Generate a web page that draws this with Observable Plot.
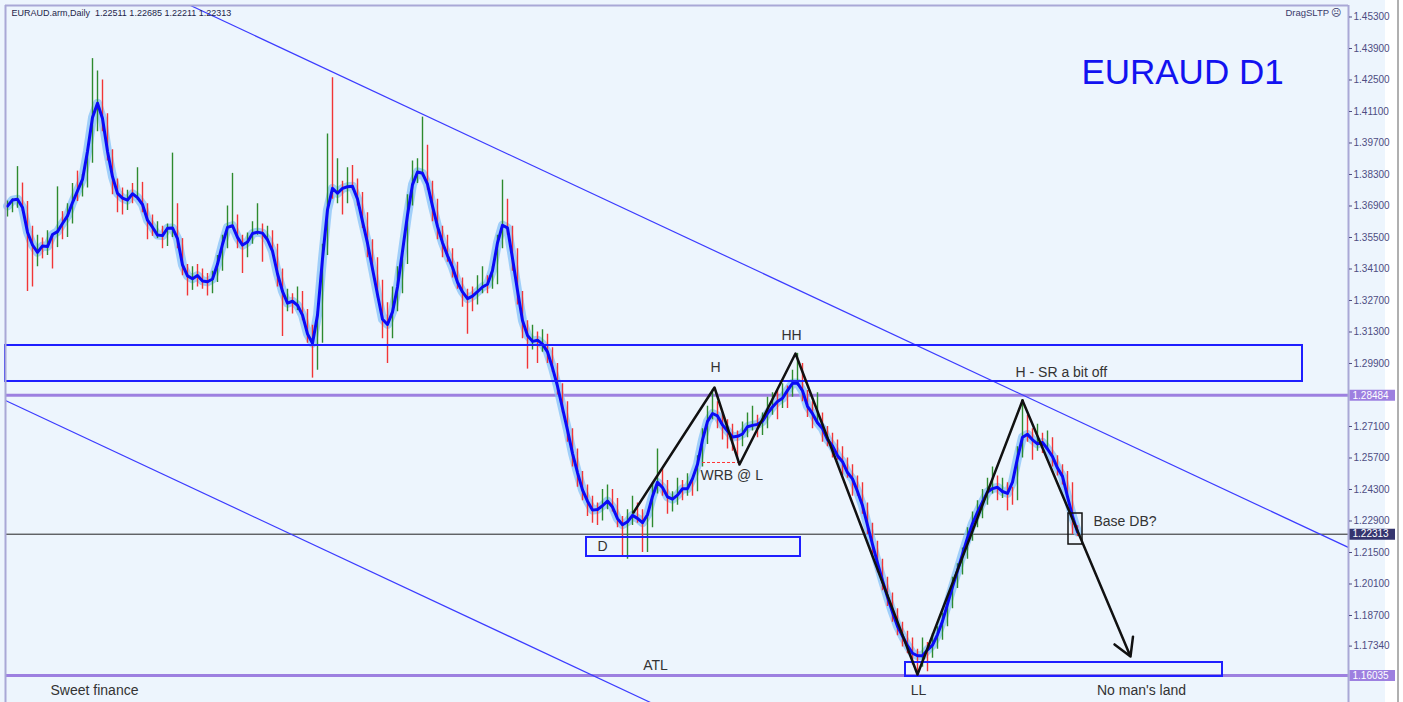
<!DOCTYPE html>
<html><head><meta charset="utf-8">
<script src="https://cdn.jsdelivr.net/npm/d3@7"></script>
<script src="https://cdn.jsdelivr.net/npm/@observablehq/plot@0.6"></script>
<style>
html,body{margin:0;padding:0;background:#fff;}
#chart{width:1403px;height:702px;overflow:hidden;}
</style></head><body><div id="chart"></div>
<script>
// Daily closes (bar index 0..214)
const closes = [1.3685,1.3694,1.3770,1.3697,1.3584,1.3440,1.3526,1.3486,1.3526,1.3517,
1.3646,1.3565,1.3626,1.3747,1.3743,1.3782,1.3899,1.4120,1.4230,1.4090,
1.3916,1.3793,1.3752,1.3694,1.3729,1.3726,1.3778,1.3677,1.3635,1.3569,
1.3583,1.3530,1.3562,1.3681,1.3534,1.3419,1.3331,1.3388,1.3380,1.3374,
1.3317,1.3369,1.3410,1.3517,1.3633,1.3635,1.3539,1.3477,1.3533,1.3579,
1.3591,1.3552,1.3565,1.3503,1.3400,1.3264,1.3268,1.3242,1.3290,1.3215,
1.3110,1.3040,1.3090,1.3485,1.3790,1.3745,1.3770,1.3725,1.3809,1.3793,
1.3730,1.3640,1.3494,1.3440,1.3300,1.3150,1.3110,1.3230,1.3318,1.3443,
1.3706,1.3801,1.3848,1.3875,1.3783,1.3702,1.3583,1.3513,1.3485,1.3410,
1.3358,1.3286,1.3280,1.3268,1.3321,1.3338,1.3331,1.3358,1.3520,1.3701,
1.3593,1.3484,1.3297,1.3162,1.3083,1.3099,1.3083,1.3099,1.3047,1.2979,
1.2886,1.2802,1.2686,1.2594,1.2492,1.2430,1.2364,1.2340,1.2311,1.2372,
1.2390,1.2374,1.2292,1.2235,1.2293,1.2332,1.2320,1.2253,1.2274,1.2427,
1.2497,1.2461,1.2359,1.2372,1.2430,1.2413,1.2457,1.2431,1.2547,1.2649,
1.2755,1.2794,1.2754,1.2723,1.2674,1.2673,1.2643,1.2683,1.2704,1.2740,
1.2701,1.2717,1.2781,1.2806,1.2803,1.2855,1.2848,1.2909,1.2949,1.2851,
1.2807,1.2741,1.2753,1.2687,1.2662,1.2607,1.2602,1.2532,1.2527,1.2457,
1.2447,1.2359,1.2270,1.2186,1.2102,1.2023,1.1952,1.1881,1.1819,1.1766,
1.1750,1.1694,1.1663,1.1716,1.1694,1.1742,1.1778,1.1836,1.1921,1.2004,
1.2066,1.2137,1.2226,1.2283,1.2327,1.2377,1.2421,1.2460,1.2421,1.2438,
1.2404,1.2396,1.2588,1.2724,1.2675,1.2626,1.2651,1.2621,1.2646,1.2563,
1.2520,1.2493,1.2452,1.2251,1.2231];
const highs = [1.3712,1.3722,1.3865,1.3792,1.3710,1.3600,1.3560,1.3548,1.3580,1.3560,
1.3775,1.3665,1.3700,1.3790,1.3845,1.3830,1.3930,1.4345,1.4290,1.4250,
1.4100,1.3940,1.3810,1.3770,1.3760,1.3790,1.3860,1.3795,1.3700,1.3650,
1.3620,1.3600,1.3610,1.3925,1.3700,1.3545,1.3430,1.3420,1.3430,1.3410,
1.3390,1.3400,1.3470,1.3560,1.3690,1.3835,1.3650,1.3560,1.3570,1.3620,
1.3700,1.3610,1.3600,1.3580,1.3520,1.3410,1.3320,1.3300,1.3330,1.3310,
1.3230,1.3160,1.3220,1.3520,1.4010,1.4260,1.3900,1.3800,1.3860,1.3870,
1.3810,1.3750,1.3660,1.3540,1.3460,1.3360,1.3260,1.3330,1.3420,1.3480,
1.3740,1.3890,1.3900,1.4085,1.3960,1.3800,1.3720,1.3600,1.3560,1.3500,
1.3440,1.3370,1.3320,1.3330,1.3380,1.3420,1.3380,1.3420,1.3560,1.3805,
1.3720,1.3600,1.3500,1.3310,1.3180,1.3160,1.3130,1.3140,1.3120,1.3060,
1.2990,1.2900,1.2820,1.2700,1.2610,1.2510,1.2450,1.2400,1.2370,1.2430,
1.2450,1.2430,1.2390,1.2310,1.2340,1.2400,1.2370,1.2340,1.2320,1.2460,
1.2610,1.2520,1.2470,1.2420,1.2480,1.2470,1.2500,1.2480,1.2580,1.2700,
1.2800,1.2875,1.2820,1.2770,1.2740,1.2720,1.2690,1.2730,1.2770,1.2800,
1.2760,1.2770,1.2840,1.2860,1.2870,1.2900,1.2890,1.2960,1.3035,1.2990,
1.2870,1.2820,1.2860,1.2770,1.2710,1.2680,1.2650,1.2620,1.2570,1.2540,
1.2490,1.2460,1.2370,1.2280,1.2200,1.2120,1.2040,1.1970,1.1900,1.1840,
1.1800,1.1770,1.1720,1.1770,1.1750,1.1790,1.1820,1.1880,1.1950,1.2040,
1.2100,1.2170,1.2260,1.2330,1.2380,1.2430,1.2480,1.2530,1.2490,1.2480,
1.2460,1.2440,1.2620,1.2830,1.2760,1.2700,1.2720,1.2680,1.2690,1.2660,
1.2580,1.2540,1.2510,1.2460,1.2269];
const lows = [1.3641,1.3660,1.3680,1.3665,1.3310,1.3330,1.3420,1.3455,1.3470,1.3410,
1.3505,1.3540,1.3550,1.3610,1.3710,1.3730,1.3770,1.3880,1.4020,1.4020,
1.3890,1.3740,1.3660,1.3650,1.3670,1.3700,1.3715,1.3660,1.3540,1.3555,
1.3545,1.3500,1.3510,1.3550,1.3500,1.3380,1.3290,1.3315,1.3330,1.3320,
1.3290,1.3300,1.3350,1.3400,1.3500,1.3600,1.3500,1.3390,1.3460,1.3520,
1.3560,1.3440,1.3530,1.3480,1.3330,1.3110,1.3220,1.3210,1.3225,1.3180,
1.3080,1.2925,1.2960,1.3080,1.3470,1.3720,1.3700,1.3650,1.3700,1.3760,
1.3690,1.3590,1.3460,1.3400,1.3280,1.3100,1.2990,1.3100,1.3220,1.3300,
1.3430,1.3690,1.3790,1.3820,1.3760,1.3620,1.3540,1.3460,1.3440,1.3370,
1.3320,1.3240,1.3120,1.3220,1.3250,1.3300,1.3300,1.3320,1.3340,1.3500,
1.3560,1.3400,1.3250,1.3100,1.2965,1.3050,1.2990,1.3040,1.2990,1.2950,
1.2850,1.2770,1.2640,1.2530,1.2440,1.2380,1.2310,1.2280,1.2270,1.2290,
1.2340,1.2330,1.2260,1.2130,1.2120,1.2270,1.2280,1.2150,1.2150,1.2260,
1.2410,1.2400,1.2320,1.2330,1.2360,1.2380,1.2400,1.2400,1.2420,1.2530,
1.2630,1.2740,1.2700,1.2650,1.2610,1.2600,1.2570,1.2620,1.2660,1.2690,
1.2660,1.2670,1.2700,1.2760,1.2740,1.2790,1.2790,1.2840,1.2890,1.2820,
1.2750,1.2700,1.2720,1.2640,1.2620,1.2570,1.2560,1.2490,1.2480,1.2400,
1.2400,1.2320,1.2230,1.2140,1.2060,1.1980,1.1910,1.1840,1.1780,1.1730,
1.1700,1.1650,1.1604,1.1640,1.1620,1.1680,1.1720,1.1760,1.1820,1.1900,
1.1990,1.2050,1.2120,1.2200,1.2260,1.2300,1.2360,1.2410,1.2380,1.2390,
1.2335,1.2360,1.2380,1.2570,1.2640,1.2560,1.2600,1.2590,1.2600,1.2530,
1.2490,1.2450,1.2410,1.2230,1.2221];

// Right price axis
const yTicks = [1.453,1.439,1.425,1.411,1.397,1.383,1.369,1.355,1.341,1.327,1.313,1.299,
1.271,1.257,1.243,1.229,1.215,1.201,1.187,1.1734];
const purpleLevels = [1.28484, 1.16035];
const lastPrice = [1.22313];
const headerText = "EURAUD.arm,Daily  1.22511 1.22685 1.22211 1.22313";

// Drawn objects (bar index, price)
const trendLines = [
  {i1: 36.6, p1: 1.45811, i2: 268.2, p2: 1.21722},
  {i1: -0.4, p1: 1.28255, i2: 128.6, p2: 1.14833}
];
const blueZones = [
  {i1: -0.4, i2: 259, p1: 1.29100, p2: 1.30700},
  {i1: 115.8, i2: 158.6, p1: 1.21322, p2: 1.22167},
  {i1: 179.6, i2: 243, p1: 1.15989, p2: 1.16611}
];
const baseBox = [{i1: 212.2, i2: 215, p1: 1.21855, p2: 1.23233}];
const swings = [
  {i: 125.2, p: 1.23278}, {i: 141.4, p: 1.28833}, {i: 146.4, p: 1.25411},
  {i: 157.6, p: 1.30344}, {i: 182, p: 1.16078}, {i: 203, p: 1.28256}
];
const projection = [{i1: 203, p1: 1.28256, i2: 224.6, p2: 1.16878}];
const wrbLine = [{i1: 139, i2: 146.2, p: 1.2550}];
const notesCentered = [
  {label: "H", i: 141.6, p: 1.29722},
  {label: "HH", i: 156.8, p: 1.31144},
  {label: "D", i: 119, p: 1.21767},
  {label: "ATL", i: 129.6, p: 1.16478},
  {label: "LL", i: 182.2, p: 1.15367},
  {label: "No man's land", i: 226.8, p: 1.15367},
  {label: "Sweet finance", i: 17.4, p: 1.15367}
];
const notesLeft = [
  {label: "WRB @ L", i: 138.6, p: 1.24922},
  {label: "H - SR a bit off", i: 201.6, p: 1.29500},
  {label: "Base DB?", i: 217.2, p: 1.22878}
];
const titleNote = [{label: "EURAUD D1", i: 235, p: 1.42833}];

const bars = closes.map((c, i) => ({i, o: i ? closes[i - 1] : c, c, h: highs[i], l: lows[i]}));
const xDomain = [-0.4, 268.2];
const yDomain = [1.14833, 1.45811];
const xMax = xDomain[1];
const fmt = d3.format(".5f");
const lav = "#a9a8d6";
const font = "'Liberation Sans', Arial, sans-serif";

const chart = Plot.plot({
  width: 1403, height: 702,
  marginLeft: 5, marginRight: 55, marginTop: 5, marginBottom: 0,
  x: {domain: xDomain, axis: null},
  y: {domain: yDomain, axis: null},
  style: {fontFamily: font, background: "linear-gradient(to right, #edf5fd 0px, #edf5fd 1385px, #ffffff 1385px, #ffffff 1397px, #b0b0b0 1397px, #b0b0b0 1399px, #ffffff 1399px)", overflow: "visible"},
  marks: [
    Plot.ruleY(purpleLevels, {stroke: "#9d80e0", strokeWidth: 3}),
    Plot.ruleY(lastPrice, {stroke: "#222", strokeWidth: 1}),
    Plot.link(trendLines, {x1: "i1", y1: "p1", x2: "i2", y2: "p2", stroke: "#3c3cff", strokeWidth: 1.2, clip: true}),
    Plot.lineY(bars, Plot.windowY({k: 3, anchor: "middle"}, {x: "i", y: "c", stroke: "#86c2f7", strokeWidth: 9, strokeOpacity: 0.75})),
    Plot.ruleX(bars.filter(d => d.c >= d.o), {x: "i", y1: "l", y2: "h", stroke: "#2e8a2e", strokeWidth: 1.4}),
    Plot.ruleX(bars.filter(d => d.c < d.o), {x: "i", y1: "l", y2: "h", stroke: "#f23535", strokeWidth: 1.4}),
    Plot.lineY(bars, Plot.windowY({k: 3, anchor: "middle"}, {x: "i", y: "c", stroke: "#0b0bf5", strokeWidth: 3})),
    Plot.rect(blueZones, {x1: "i1", x2: "i2", y1: "p1", y2: "p2", fill: "none", stroke: "#1e1eff", strokeWidth: 2}),
    Plot.rect(baseBox, {x1: "i1", x2: "i2", y1: "p1", y2: "p2", fill: "none", stroke: "#111", strokeWidth: 1.5}),
    Plot.ruleY(wrbLine, {y: "p", x1: "i1", x2: "i2", stroke: "#f33", strokeWidth: 1, strokeDasharray: "3,2"}),
    Plot.line(swings, {x: "i", y: "p", stroke: "#111", strokeWidth: 2.5}),
    Plot.arrow(projection, {x1: "i1", y1: "p1", x2: "i2", y2: "p2", stroke: "#111", strokeWidth: 2.5, headLength: 12}),
    Plot.text(notesCentered, {x: "i", y: "p", text: "label", fill: "#333", fontSize: 14, textAnchor: "middle"}),
    Plot.text(notesLeft, {x: "i", y: "p", text: "label", fill: "#333", fontSize: 14, textAnchor: "start"}),
    Plot.text(titleNote, {x: "i", y: "p", text: "label", fill: "#1212f0", fontSize: 35, textAnchor: "middle"}),
    Plot.text([headerText], {text: d => d, frameAnchor: "top-left", dx: 6, dy: 4, fill: "#1e1e4a", fontSize: 9, textAnchor: "start"}),
    Plot.text(["DragSLTP \u2639"], {text: d => d, frameAnchor: "top-right", dx: -7, dy: 4, fill: "#3a3a6a", fontSize: 9.5, textAnchor: "end"}),
    Plot.ruleX([xDomain[0]], {stroke: lav, strokeWidth: 2}),
    Plot.ruleY([yDomain[1]], {stroke: lav, strokeWidth: 2}),
    Plot.ruleX([xMax], {stroke: lav, strokeWidth: 2}),
    Plot.axisY(yTicks, {anchor: "right", tickSize: 3, tickPadding: 2, tickFormat: fmt, fontSize: 10, color: "#4d4d82"}),
    Plot.ruleY(purpleLevels, {y: d => d, x1: () => xMax + 0.3, x2: () => xMax + 9.4, stroke: "#9d80e0", strokeWidth: 11}),
    Plot.ruleY(lastPrice, {y: d => d, x1: () => xMax + 0.3, x2: () => xMax + 9.4, stroke: "#35356e", strokeWidth: 11}),
    Plot.text(purpleLevels.concat(lastPrice), {x: () => xMax, y: d => d, text: d => fmt(d), dx: 4, textAnchor: "start", fill: "#fff", fontSize: 10})
  ]
});
document.getElementById("chart").appendChild(chart);
</script></body></html>
